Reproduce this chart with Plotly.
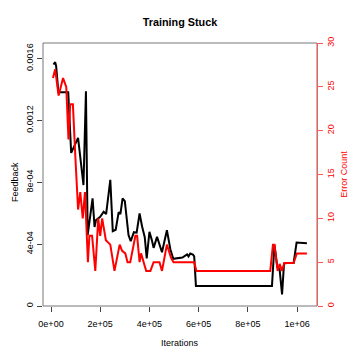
import plotly.graph_objects as go

# Feedback series (black, left axis)
iter_fb = [10000, 17000, 21000, 30000, 70000, 82000, 110000, 132000, 142000, 149000,
           169000, 177000, 183000, 200000, 214000, 224000, 241000, 251000, 263000, 275000,
           282000, 291000, 300000, 315000, 324000, 337000, 348000, 360000, 370000, 381000,
           389000, 400000, 410000, 417000, 431000, 441000, 451000, 471000, 485000, 497000,
           512000, 534000, 553000, 559000, 566000, 577000, 582000, 589000, 898000, 908000,
           920000, 929000, 939000, 947000, 959000, 986000, 998000, 1040000]
feedback = [0.001561, 0.001576, 0.00155, 0.001381, 0.001381, 0.00099, 0.001087, 0.000782, 0.001388, 0.000458,
            0.000696, 0.000511, 0.000555, 0.000576, 0.000609, 0.000594, 0.000815, 0.000484, 0.000493, 0.000607,
            0.000594, 0.000696, 0.000678, 0.000458, 0.000419, 0.000477, 0.000474, 0.000598, 0.000516, 0.000445,
            0.000308, 0.000479, 0.000425, 0.000376, 0.000447, 0.000399, 0.000347, 0.00049, 0.000367, 0.000305,
            0.000308, 0.000313, 0.000334, 0.000321, 0.000339, 0.000332, 0.000321, 0.00013, 0.00013, 0.000396,
            0.00025, 0.000237, 0.000075, 0.000274, 0.000278, 0.000278, 0.00041, 0.000406]

# Error count series (red, right axis)
iter_err = [8000, 17000, 31000, 49000, 62000, 71000, 78000, 89000, 99000, 110000,
            119000, 129000, 138000, 150000, 156000, 167000, 180000, 192000, 200000, 208000,
            223000, 241000, 258000, 279000, 289000, 302000, 311000, 322000, 343000, 350000,
            360000, 366000, 387000, 404000, 417000, 441000, 451000, 471000, 488000, 498000,
            582000, 591000, 891000, 902000, 908000, 921000, 929000, 939000, 948000, 959000,
            986000, 999000, 1040000]
errors = [26, 27, 24, 26, 25, 19, 23, 23, 17, 11,
          13, 10, 13, 5, 8, 8, 4, 10, 8, 10,
          7.5, 7, 4, 7, 6.3, 6, 5, 5, 8, 8,
          5, 6, 4, 4, 5, 5, 4, 7, 5.5, 5,
          5, 4, 4, 7, 7, 4, 4.8, 4, 4.9, 4.9,
          4.9, 6, 6]

x_ticks = [0, 200000, 400000, 600000, 800000, 1000000]
x_labels = ["0e+00", "2e+05", "4e+05", "6e+05", "8e+05", "1e+06"]
y_ticks = [0, 0.0004, 0.0008, 0.0012, 0.0016]
y_labels = ["0", "4e-04", "8e-04", "0.0012", "0.0016"]
y2_ticks = [0, 5, 10, 15, 20, 25, 30]

FONT = "Liberation Sans, Arial, sans-serif"

fig = go.Figure()
fig.add_trace(go.Scatter(x=iter_fb, y=feedback, mode="lines",
                         line=dict(color="black", width=2), yaxis="y"))
fig.add_trace(go.Scatter(x=iter_err, y=errors, mode="lines",
                         line=dict(color="#ff0000", width=2), yaxis="y2"))

fig.update_layout(
    width=360, height=360,
    margin=dict(l=43, r=43, t=43, b=54),
    paper_bgcolor="white", plot_bgcolor="white",
    showlegend=False,
    font=dict(family=FONT, size=9, color="black"),
    title=dict(text="<b>Training Stuck</b>", x=0.5, xref="paper", y=1 - 22.7 / 360,
               yanchor="middle", xanchor="center", font=dict(size=10.8, family=FONT)),
    xaxis=dict(range=[-32500, 1081000], tickvals=x_ticks, ticktext=x_labels,
               ticks="outside", ticklen=5, tickcolor="#444", showline=False,
               showgrid=False, zeroline=False, tickfont=dict(size=9),
               ticklabelstandoff=4),
    yaxis=dict(range=[0, 0.0017], tickvals=y_ticks, ticktext=y_labels, tickangle=-90,
               ticks="outside", ticklen=5, tickcolor="#444", showline=False,
               showgrid=False, zeroline=False, tickfont=dict(size=9)),
    yaxis2=dict(range=[0, 30], tickvals=y2_ticks, overlaying="y", side="right",
                tickangle=-90, ticks="outside", ticklen=5, tickcolor="#ff5555",
                showline=True, linecolor="#ff5555", linewidth=1,
                showgrid=False, zeroline=False,
                tickfont=dict(size=9, color="#ff0000")),
    shapes=[dict(type="rect", xref="paper", yref="paper", x0=0, x1=1, y0=0, y1=1,
                 line=dict(color="#777", width=1), layer="below")],
    annotations=[
        dict(text="Iterations", xref="paper", yref="paper", x=0.5, y=(306 - 343) / 263,
             showarrow=False, xanchor="center", yanchor="middle", font=dict(size=9)),
        dict(text="Feedback", xref="paper", yref="paper", x=(15 - 43) / 274, y=(306 - 182) / 263,
             showarrow=False, textangle=-90, xanchor="center", yanchor="middle", font=dict(size=9)),
        dict(text="Error Count", xref="paper", yref="paper", x=1 + (343.3 - 317) / 274, y=0.5,
             showarrow=False, textangle=-90, xanchor="center", yanchor="middle",
             font=dict(size=9, color="#ff0000")),
    ],
)

fig.write_html("out.html", config={"displayModeBar": False},
               post_script="document.body.style.margin='0';")
